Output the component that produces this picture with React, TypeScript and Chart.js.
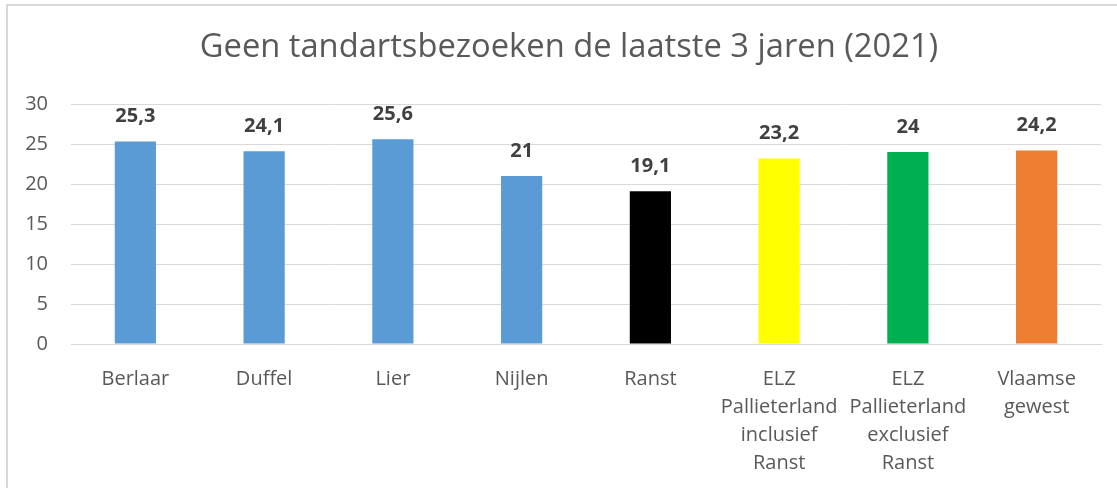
import React, { useEffect, useRef } from "react";
import { Chart, registerables } from "chart.js";

Chart.register(...registerables);

const categories: (string | string[])[] = [
  "Berlaar",
  "Duffel",
  "Lier",
  "Nijlen",
  "Ranst",
  ["ELZ", "Pallieterland", "inclusief", "Ranst"],
  ["ELZ", "Pallieterland", "exclusief", "Ranst"],
  ["Vlaamse", "gewest"],
];
const values = [25.3, 24.1, 25.6, 21, 19.1, 23.2, 24, 24.2];
const barColors = [
  "#5b9bd5",
  "#5b9bd5",
  "#5b9bd5",
  "#5b9bd5",
  "#000000",
  "#ffff00",
  "#00b050",
  "#ed7d31",
];
const titleText = "Geen tandartsbezoeken de laatste 3 jaren (2021)";
const FONT = "'Open Sans', 'Noto Sans', sans-serif";

const labelPlugin = {
  id: "valueLabels",
  afterDatasetsDraw(chart: any) {
    const ctx = chart.ctx;
    const meta = chart.getDatasetMeta(0);
    ctx.save();
    ctx.font = `bold 20px ${FONT}`;
    ctx.fillStyle = "#404040";
    ctx.textAlign = "center";
    ctx.textBaseline = "middle";
    meta.data.forEach((bar: any, i: number) => {
      const v = values[i];
      const txt = String(v).replace(".", ",");
      ctx.fillText(txt, bar.x, bar.y - 25);
    });
    ctx.restore();
  },
};

const titlePlugin = {
  id: "customTitle",
  afterDraw(chart: any) {
    const ctx = chart.ctx;
    ctx.save();
    ctx.font = `32.7px ${FONT}`;
    ctx.fillStyle = "#595959";
    ctx.textAlign = "center";
    ctx.textBaseline = "middle";
    ctx.fillText(titleText, 569, 48);
    ctx.restore();
  },
};

export default function App() {
  const ref = useRef<HTMLCanvasElement | null>(null);
  useEffect(() => {
    if (!ref.current) return;
    const chart = new Chart(ref.current, {
      type: "bar",
      data: {
        labels: categories,
        datasets: [
          {
            data: values,
            backgroundColor: barColors,
            barPercentage: 0.32,
            categoryPercentage: 1,
          },
        ],
      },
      options: {
        animation: false,
        responsive: false,
        maintainAspectRatio: false,
        layout: { padding: { left: 0, right: 16, top: 104, bottom: 0 } },
        plugins: {
          legend: { display: false },
          tooltip: { enabled: false },
          title: { display: false },
        },
        scales: {
          x: {
            grid: { display: false, drawTicks: false },
            border: { display: true, color: "#d9d9d9" },
            ticks: {
              color: "#595959",
              font: { family: FONT, size: 20, lineHeight: 1.4 },
              padding: 21,
              maxRotation: 0,
              autoSkip: false,
            },
            afterFit: (scale: any) => {
              scale.height = 144;
            },
          },
          y: {
            min: 0,
            max: 30,
            ticks: {
              stepSize: 5,
              color: "#595959",
              font: { family: FONT, size: 20 },
              padding: 23,
            },
            grid: { color: "#d9d9d9", drawTicks: false },
            border: { display: false },
            afterFit: (scale: any) => {
              scale.width = 71;
            },
          },
        },
      },
      plugins: [labelPlugin, titlePlugin],
    });
    return () => chart.destroy();
  }, []);
  return (
    <div
      style={{
        position: "fixed",
        left: 0,
        top: 0,
        width: 1117,
        height: 488,
        background: "#fff",
        overflow: "hidden",
      }}
    >
      <div
        style={{
          position: "absolute",
          left: 6,
          top: 4,
          width: 1200,
          height: 600,
          borderLeft: "2px solid #d9d9d9",
          borderTop: "2px solid #d9d9d9",
        }}
      />
      <canvas
        ref={ref}
        width={1117}
        height={488}
        style={{ position: "absolute", left: 0, top: 0 }}
      />
    </div>
  );
}
